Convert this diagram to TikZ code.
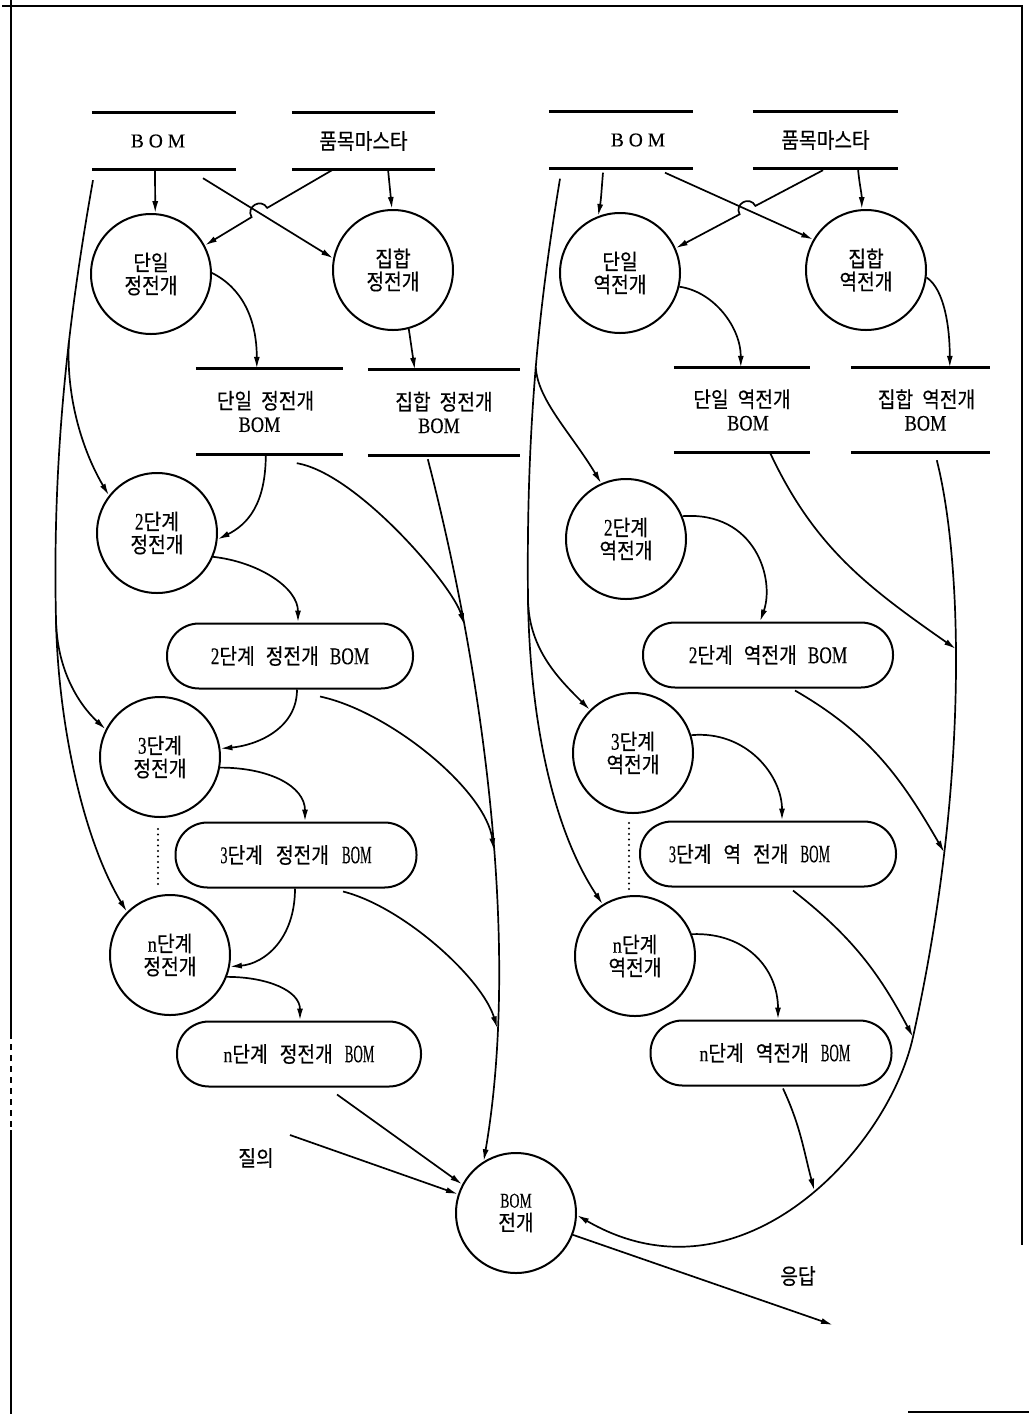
\documentclass[tikz,border=0pt]{standalone}
\usepackage{fontspec}
\usepackage{graphicx}
\setmainfont{Liberation Serif}[FakeBold=0.3]
\newfontfamily\kr{Noto Sans CJK KR}[Scale=1.12,FakeStretch=0.88,FakeBold=0.4]
\usetikzlibrary{arrows.meta}
\newcommand{\ko}[1]{{\kr #1}}
% narrow, tall Latin glyphs: \lat{horizontal factor}{size in pt}{text}
\newcommand{\lat}[3]{\scalebox{#1}[1]{\fontsize{#2pt}{#2pt}\selectfont #3}}

\begin{document}
\begin{tikzpicture}[x=1pt,y=-1pt,
  font=\fontsize{19.5pt}{23pt}\selectfont,
  proc/.style={draw,circle,line width=2pt,minimum size=120pt,inner sep=0pt,align=center},
  store/.style={inner sep=0pt,align=center},
  stline/.style={line width=2.8pt},
  pill/.style={draw,line width=2pt,rounded corners=32pt,minimum height=65pt,inner sep=0pt},
  flow/.style={line width=1.7pt,-{Latex[length=12pt,width=6pt]}},
  link/.style={line width=1.7pt},
  frame/.style={line width=2.2pt},
  dotline/.style={line width=2.4pt,line cap=round,dash pattern=on 0pt off 5.5pt}
]
\useasboundingbox (0,0) rectangle (1029,1414);

% page frame
\draw[frame] (2,6) -- (1022,6) -- (1022,1245);
\draw[frame] (11,0) -- (11,1033);
\draw[frame,dash pattern=on 6pt off 5pt] (11,1033) -- (11,1130);
\draw[frame] (11,1130) -- (11,1414);
\draw[frame] (908,1412) -- (1029,1412);

% data stores
\node[store,minimum width=144pt,minimum height=56pt] (bomL) at (164,141) {B O M\kern12pt};
\node[store,minimum width=143pt,minimum height=56pt] (pmL) at (363.5,141) {\ko{품목마스타}};
\node[store,minimum width=144pt,minimum height=57pt] (bomR) at (621,140) {\kern34pt B O M};
\node[store,minimum width=145pt,minimum height=57pt] (pmR) at (825.5,140) {\ko{품목마스타}};
\node[store,minimum width=147pt,minimum height=85pt] (s1L) at (269.5,411.5)
  {\ko{단일}\hspace{9pt}\ko{정전개}\kern8pt\\\lat{0.83}{22}{BOM}\kern20pt};
\node[store,minimum width=152pt,minimum height=85pt] (s2L) at (444,412.5)
  {\ko{집합}\hspace{9pt}\ko{정전개}\\\lat{0.83}{22}{BOM}\kern10pt};
\node[store,minimum width=136pt,minimum height=84pt] (s1R) at (742,410)
  {\ko{단일}\hspace{9pt}\ko{역전개}\\\kern12pt\lat{0.83}{22}{BOM}};
\node[store,minimum width=139pt,minimum height=84pt] (s2R) at (920.5,410)
  {\kern12pt\ko{집합}\hspace{9pt}\ko{역전개}\\\kern10pt\lat{0.83}{22}{BOM}};
\foreach \s in {bomL,pmL,bomR,pmR,s1L,s2L,s1R,s2R}
  \draw[stline] (\s.north west) -- (\s.north east) (\s.south west) -- (\s.south east);

% processes
\node[proc] (c1L) at (151,274) {\ko{단일}\\\ko{정전개}};
\node[proc] (c2L) at (393,270) {\ko{집합}\\\ko{정전개}};
\node[proc] (c1R) at (620,273) {\ko{단일}\\\ko{역전개}};
\node[proc] (c2R) at (866,270) {\ko{집합}\\\ko{역전개}};
\node[proc] (l2) at (157,533) {\lat{0.72}{24}{2}\ko{단계}\\\ko{정전개}};
\node[proc] (l3) at (160,757) {\lat{0.72}{24}{3}\ko{단계}\\\ko{정전개}};
\node[proc] (ln) at (170,955) {\lat{0.85}{22}{n}\ko{단계}\\\ko{정전개}};
\node[proc] (r2) at (626,539) {\lat{0.72}{24}{2}\ko{단계}\\\ko{역전개}};
\node[proc] (r3) at (633,753) {\lat{0.72}{24}{3}\ko{단계}\\\ko{역전개}};
\node[proc] (rn) at (635,956) {\lat{0.85}{22}{n}\ko{단계}\\\ko{역전개}};
\node[proc] (bx) at (516,1213) {\lat{0.66}{21}{BOM}\\\ko{전개}};

% level result files
\node[pill,minimum width=246pt] (b2L) at (290,656)
  {\lat{0.72}{24}{2}\ko{단계}\hspace{11pt}\ko{정전개}\hspace{11pt}\lat{0.72}{24}{BOM}};
\node[pill,minimum width=241pt] (b3L) at (296,855)
  {\lat{0.6}{24}{3}\ko{단계}\hspace{13pt}\ko{정전개}\hspace{13pt}\lat{0.52}{25}{BOM}};
\node[pill,minimum width=244pt] (bnL) at (299,1054)
  {\lat{0.8}{22}{n}\ko{단계}\hspace{12pt}\ko{정전개}\hspace{12pt}\lat{0.52}{25}{BOM}};
\node[pill,minimum width=250pt] (b2R) at (768,655)
  {\lat{0.72}{24}{2}\ko{단계}\hspace{11pt}\ko{역전개}\hspace{11pt}\lat{0.72}{24}{BOM}};
\node[pill,minimum width=256pt] (b3R) at (768,854)
  {\lat{0.6}{24}{3}\ko{단계}\hspace{12pt}\ko{역}\hspace{12pt}\ko{전개}\hspace{12pt}\lat{0.52}{25}{BOM}\kern37pt};
\node[pill,minimum width=241pt] (bnR) at (771,1053)
  {\kern8pt\lat{0.8}{22}{n}\ko{단계}\hspace{12pt}\ko{역전개}\hspace{12pt}\lat{0.52}{25}{BOM}};

% external labels
\node (qry) at (256,1158) {\ko{질의}};
\node (ans) at (798,1276) {\ko{응답}};
\coordinate (qsrc) at (290,1135);
\coordinate (rsp) at (833,1325);

% masters into the first explosions
\draw[flow] ([xshift=-9pt]bomL.south) -- (c1L.86);
\draw[flow] ([xshift=39pt,yshift=-9pt]bomL.south) -- (c2L.169);
\draw[flow] ([xshift=-31.5pt,yshift=-1pt]pmL.south) -- (267.2,207.9)
  .. controls (261.1,197.6) and (245.5,206.8) .. (251.6,217.1) -- (c1L.28.5);
\draw[flow] ([xshift=24.5pt]pmL.south) -- (c2L.91);

\draw[flow] ([xshift=-18pt,yshift=-4pt]bomR.south) to[out=-95,in=80] (c1R.111);
\draw[flow] ([xshift=44pt,yshift=-4pt]bomR.south) -- (c2R.150);
\draw[flow] ([xshift=-2.5pt,yshift=-1.5pt]pmR.south) -- (755.4,205.9)
  .. controls (749.8,195.3) and (734.0,203.7) .. (739.6,214.3) -- (c1R.24);
\draw[flow] ([xshift=32.5pt]pmR.south) to[out=-85,in=90] (c2R.94);

% forward explosion chain
\draw[flow] (c1L.1) .. controls +(30,15) and +(0,-50) .. ([xshift=61pt]s1L.north west);
\draw[flow] (c2L.-75) -- ([xshift=47pt]s2L.north west);
\draw[flow] ([xshift=70pt]s1L.south west) .. controls +(0,50) and +(30,-15) .. (l2.-6);
\draw[flow] (l2.-23) .. controls +(45,5) and +(0,-35) .. ([xshift=8pt]b2L.north);
\draw[flow] ([xshift=7pt]b2L.south) .. controls +(0,40) and +(35,-3) .. (l3.8);
\draw[flow] (l3.-10) .. controls +(50,0) and +(0,-35) .. ([xshift=9pt]b3L.north);
\draw[flow] ([xshift=-1pt]b3L.south) .. controls +(0,50) and +(35,-3) .. (ln.-11);
\draw[flow] (ln.-21) .. controls +(40,0) and +(0,-30) .. ([xshift=1pt]bnL.north);

% reverse explosion chain
\draw[flow] (c1R.-13) .. controls +(35,5) and +(0,-40) .. ([xshift=67pt]s1R.north west);
\draw[flow] (c2R.-7) .. controls +(18,12) and +(0,-40) .. ([xshift=99pt]s2R.north west);
\draw[flow] (r2.22) .. controls +(73,-5) and +(15,-42) .. ([xshift=-8pt]b2R.north);
\draw[flow] (r3.17) .. controls +(55,-5) and +(0,-45) .. ([xshift=14pt]b3R.north);
\draw[flow] (rn.21) .. controls +(55,-2) and +(0,-50) .. ([xshift=7pt]bnR.north);

% BOM feeds down the left side
\coordinate (tl0) at ([xshift=-71pt,yshift=-11pt]bomL.south);
\draw[link] (tl0) .. controls (70,310) and (52,450) .. (56,620) coordinate (tl1) coordinate[pos=0.4] (tl2);
\draw[flow] (tl2) .. controls +(-3,58) and +(-25,-42) .. (l2.142);
\draw[flow] (tl1) .. controls +(1,50) and +(-27,-25) .. (l3.153);
\draw[flow] (tl1) .. controls +(2,100) and +(-45,-75) .. (ln.135);

% BOM feeds down the right side
\coordinate (tr0) at ([xshift=-61pt,yshift=-10pt]bomR.south);
\draw[link] (tr0) .. controls (540,300) and (526,420) .. (528,600) coordinate (tr1) coordinate[pos=0.5] (tr2);
\draw[flow] (tr2) .. controls +(2,33) and +(-30,-50) .. (r2.114);
\draw[flow] (tr1) .. controls +(1,50) and +(-30,-30) .. (r3.135);
\draw[flow] (tr1) .. controls +(2,120) and +(-50,-75) .. (rn.122);

% forward results collected into the query process
\draw[flow] ([xshift=60pt,yshift=-4pt]s2L.south west) .. controls (485,680) and (520,950) .. (bx.122)
  coordinate[pos=0.24] (cl1) coordinate[pos=0.55] (cl2) coordinate[pos=0.8] (cl3);
\draw[flow] ([xshift=101pt,yshift=-9pt]s1L.south west) .. controls +(60,10) and +(-12,-40) .. (cl1);
\draw[flow] ([xshift=30pt,yshift=-7pt]b2L.south) .. controls +(70,15) and +(-8,-60) .. (cl2);
\draw[flow] ([xshift=47pt,yshift=-3pt]b3L.south) .. controls +(60,15) and +(-15,-50) .. (cl3);
\draw[flow] ([xshift=38pt,yshift=-7pt]bnL.south) -- (bx.152);

% reverse results collected into the query process
\draw[flow] ([xshift=86pt,yshift=-8pt]s2R.south west) .. controls (962,560) and (970,780) .. (913,1037)
  coordinate[pos=0.43] (ra1) coordinate[pos=0.75] (ra2) coordinate (ra3)
  .. controls (888,1150) and (740,1310) .. (bx.-2) coordinate[pos=0.45] (ra4);
\draw[flow] ([xshift=96pt]s1R.south west) to[out=-65,in=145] (ra1);
\draw[flow] ([xshift=27pt,yshift=-2pt]b2R.south) to[out=-30,in=120] (ra2);
\draw[flow] ([xshift=25pt,yshift=-3pt]b3R.south) to[out=-38,in=118] (ra3);
\draw[flow] ([xshift=12pt,yshift=-2pt]bnR.south) to[out=-65,in=105] (ra4);

% query and answer
\draw[flow] (qsrc) -- (bx.162);
\draw[flow] (bx.-21) -- (rsp);

% intermediate levels omitted
\draw[dotline] ([xshift=-2pt,yshift=-11pt]l3.south) -- ([xshift=-12pt,yshift=8pt]ln.north);
\draw[dotline] ([xshift=-4pt,yshift=-9pt]r3.south) -- ([xshift=-6pt,yshift=6pt]rn.north);
\end{tikzpicture}
\end{document}
